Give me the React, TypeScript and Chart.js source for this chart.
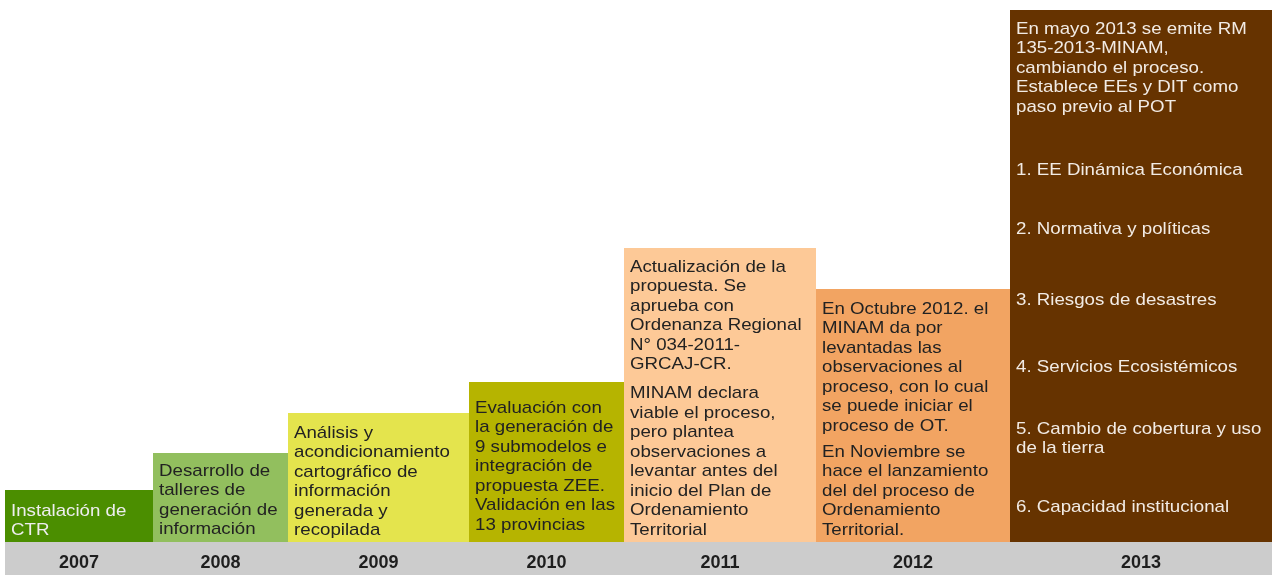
import React, { useEffect, useRef } from "react";
import { Chart, registerables } from "chart.js";

Chart.register(...registerables);

const years = ["2007", "2008", "2009", "2010", "2011", "2012", "2013"];
const spans = [148, 135, 181, 155, 192, 194, 262];
const heights = [52, 89, 129, 160, 294, 253, 532];
const colors = ["#4b8e00", "#92bf5e", "#e4e44d", "#b6b400", "#fdc997", "#f2a462", "#663300"];
const textColors = ["#eeeeee", "#222222", "#222222", "#222222", "#222222", "#222222", "#f2ebe4"];

const texts: string[][][] = [
  [["Instalación de", "CTR"]],
  [["Desarrollo de", "talleres de", "generación de", "información"]],
  [["Análisis y", "acondicionamiento", "cartográfico de", "información", "generada y", "recopilada"]],
  [["Evaluación con", "la generación de", "9 submodelos e", "integración de", "propuesta ZEE.", "Validación en las", "13 provincias"]],
  [
    ["Actualización de la", "propuesta. Se", "aprueba con", "Ordenanza Regional", "N° 034-2011-", "GRCAJ-CR."],
    ["MINAM declara", "viable el proceso,", "pero plantea", "observaciones a", "levantar antes del", "inicio del Plan de", "Ordenamiento", "Territorial"],
  ],
  [
    ["En Octubre 2012. el", "MINAM da por", "levantadas las", "observaciones al", "proceso, con lo cual", "se puede iniciar el", "proceso de OT."],
    ["En Noviembre se", "hace el lanzamiento", "del del proceso de", "Ordenamiento", "Territorial."],
  ],
  [
    ["En mayo 2013 se emite RM", "135-2013-MINAM,", "cambiando el proceso.", "Establece EEs y DIT como", "paso previo al POT"],
    ["1. EE Dinámica Económica"],
    ["2. Normativa y políticas"],
    ["3. Riesgos de desastres"],
    ["4. Servicios Ecosistémicos"],
    ["5. Cambio de cobertura y uso", "de la tierra"],
    ["6. Capacidad institucional"],
  ],
];

// text layout (not data)
const FIRST_OFFSET = [21, 18, 20, 26, 19, 20, 19];
const PARA_GAPS: number[][] = [[], [], [], [], [9.5], [6.5], [43.5, 39.5, 51.5, 47.5, 42.5, 39.5]];
const LINE_H = 19.5;
const FONT = "17px 'Liberation Sans', Arial, sans-serif";
const STRETCH = 1.1;

const edges: number[] = [0];
spans.forEach((s, i) => edges.push(edges[i] + s));
const centers = spans.map((s, i) => edges[i] + s / 2);
const total = edges[edges.length - 1];

const bandPlugin = {
  id: "band",
  beforeDraw(chart: any) {
    const { ctx, chartArea } = chart;
    ctx.save();
    ctx.fillStyle = "#cccccc";
    ctx.fillRect(chartArea.left, chartArea.bottom, chartArea.right - chartArea.left, chart.height - chartArea.bottom);
    ctx.restore();
  },
};

const textPlugin = {
  id: "barText",
  afterDatasetsDraw(chart: any) {
    const { ctx } = chart;
    ctx.save();
    ctx.font = FONT;
    ctx.textBaseline = "middle";
    ctx.textAlign = "left";
    texts.forEach((paras, i) => {
      const meta = chart.getDatasetMeta(i);
      const p0 = meta.data[0];
      const x = p0.x + 6;
      let y = p0.y + FIRST_OFFSET[i];
      ctx.fillStyle = textColors[i];
      paras.forEach((lines, pi) => {
        if (pi > 0) y += PARA_GAPS[i][pi - 1] || 0;
        lines.forEach((line) => {
          ctx.save();
          ctx.translate(x, y);
          ctx.scale(STRETCH, 1);
          ctx.fillText(line, 0, 0);
          ctx.restore();
          y += LINE_H;
        });
      });
    });
    ctx.restore();
  },
};

export default function App() {
  const ref = useRef<HTMLCanvasElement>(null);
  useEffect(() => {
    document.body.style.margin = "0";
    const datasets = years.map((y, i) => ({
      label: y,
      data: [
        { x: edges[i], y: heights[i] },
        { x: edges[i + 1], y: heights[i] },
      ],
      backgroundColor: colors[i],
      borderWidth: 0,
      borderColor: colors[i],
      pointRadius: 0,
      fill: "origin",
      tension: 0,
    }));
    const chart = new Chart(ref.current!, {
      type: "line",
      data: { datasets },
      plugins: [bandPlugin, textPlugin],
      options: {
        animation: false,
        responsive: false,
        maintainAspectRatio: false,
        layout: { padding: { left: 5, top: 0, right: 0, bottom: 0 } },
        plugins: { legend: { display: false }, tooltip: { enabled: false } },
        scales: {
          x: {
            type: "linear",
            min: 0,
            max: total,
            grid: { display: false, drawTicks: false },
            border: { display: false },
            afterBuildTicks: (scale: any) => {
              scale.ticks = centers.map((v) => ({ value: v }));
            },
            afterFit: (scale: any) => {
              scale.height = 33;
            },
            ticks: {
              autoSkip: false,
              maxRotation: 0,
              padding: 10,
              color: "#1e1e1e",
              font: { family: "'Liberation Sans', Arial, sans-serif", size: 18, weight: "bold" },
              callback: (_v: any, idx: number) => years[idx],
            },
          },
          y: {
            display: false,
            min: 0,
            max: 542,
          },
        },
      },
    });
    return () => chart.destroy();
  }, []);
  return (
    <div style={{ width: 1272, height: 575 }}>
      <canvas ref={ref} width={1272} height={575} style={{ display: "block" }} />
    </div>
  );
}
